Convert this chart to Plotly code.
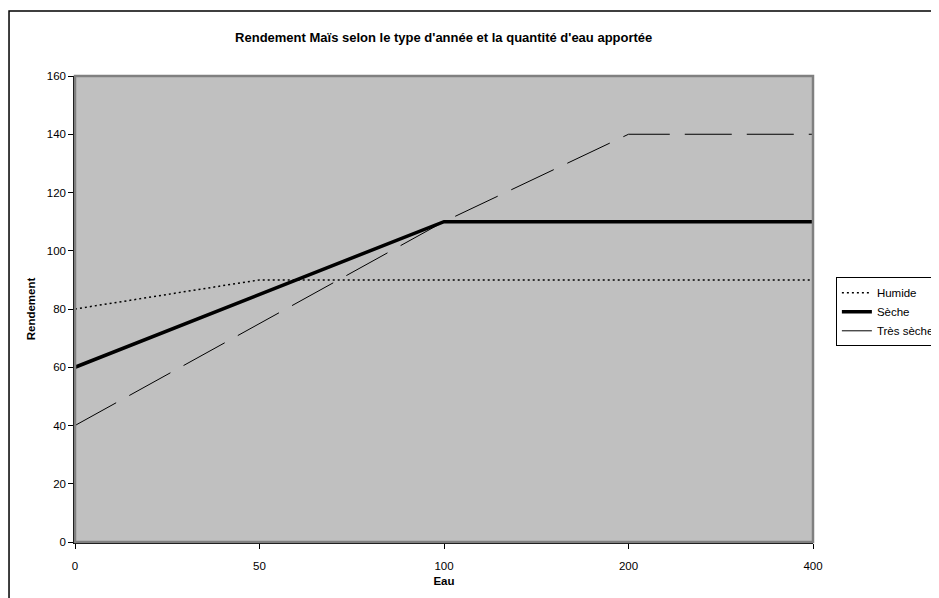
import plotly.graph_objects as go

# Données
eau = ["0", "50", "100", "200", "400"]
humide = [80, 90, 90, 90, 90]
seche = [60, 85, 110, 110, 110]
tres_seche = [40, 75, 110, 140, 140]

fig = go.Figure()

fig.add_trace(go.Scatter(
    x=eau, y=humide, name="Humide", mode="lines",
    line=dict(color="black", width=1.5, dash="2px,3px")
))
fig.add_trace(go.Scatter(
    x=eau, y=seche, name="Sèche", mode="lines",
    line=dict(color="black", width=3.5)
))
fig.add_trace(go.Scatter(
    x=eau, y=tres_seche, name="Très sèche", mode="lines",
    line=dict(color="black", width=1, dash="47px,15px")
))

# cadre du graphique (dépasse de l'image à droite et en bas)
fig.add_shape(type="rect", xref="paper", yref="paper",
              x0=-0.0894, x1=1.5, y0=-0.5, y1=1.1395,
              line=dict(color="black", width=1.5), layer="below")
# bordure grise de la zone de tracé
fig.add_shape(type="rect", xref="paper", yref="paper",
              x0=0, x1=1, y0=0, y1=1,
              line=dict(color="#808080", width=2.5))

fig.update_layout(
    title=dict(text="<b>Rendement Maïs selon le type d'année et la quantité d'eau apportée</b>",
               x=0.468, xanchor="center", y=1 - 29 / 590, yanchor="middle",
               font=dict(size=13, color="black")),
    font=dict(family="Liberation Sans, Arial, sans-serif", size=11, color="black"),
    width=931, height=590,
    margin=dict(l=67, r=126, t=68, b=56, autoexpand=False),
    paper_bgcolor="white",
    plot_bgcolor="#C0C0C0",
    showlegend=True,
    legend=dict(x=1.031, y=0.568, xanchor="left", yanchor="top",
                bgcolor="white", bordercolor="black", borderwidth=1,
                font=dict(size=11.5), tracegroupgap=0, itemwidth=30),
    xaxis=dict(type="category", range=[0, 4], showgrid=False, zeroline=False,
               showline=True, linecolor="black", linewidth=1.5,
               ticks="outside", ticklen=5, tickcolor="black",
               tickfont=dict(size=11.5), ticklabelstandoff=7,
               title=dict(text="<b>Eau</b>", font=dict(size=11.5), standoff=6)),
    yaxis=dict(range=[0, 160], dtick=20, showgrid=False, zeroline=False,
               showline=True, linecolor="black", linewidth=1.5,
               ticks="outside", ticklen=5, tickcolor="black",
               tickfont=dict(size=11.5),
               title=dict(text="<b>Rendement</b>", font=dict(size=11.5), standoff=9)),
)

fig.write_html("out.html")
